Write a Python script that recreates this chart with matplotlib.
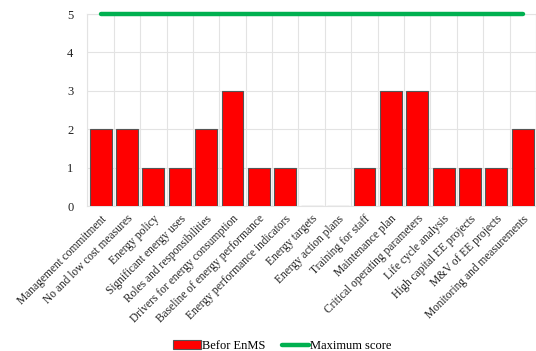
import matplotlib
matplotlib.use('Agg')
import matplotlib.pyplot as plt
import numpy as np

categories = ['Management commitment', 'No and low cost measures', 'Energy policy',
              'Significant energy uses', 'Roles and responsibilities',
              'Drivers for energy consumption', 'Baseline of energy performance',
              'Energy performance indicators', 'Energy targets', 'Energy action plans',
              'Training for staff', 'Maintenance plan', 'Critical operating parameters',
              'Life cycle analysis', 'High capital EE projects', 'M&V of EE projects',
              'Monitoring and measurements']
before_enms = [2, 2, 1, 1, 2, 3, 1, 1, 0, 0, 1, 3, 3, 1, 1, 1, 2]
max_score = [5] * len(categories)

plt.rcParams['font.family'] = ['Liberation Serif', 'DejaVu Serif']
plt.rcParams['font.size'] = 8.3

fig = plt.figure(figsize=(5.36, 3.51), dpi=100)
ax = fig.add_axes([0.163, 0.413, 0.837, 0.547])

x = np.arange(len(categories))
bars = ax.bar(x, before_enms, width=0.83, color='#FF0000', edgecolor='#555555',
              linewidth=0.8, label='Befor EnMS', zorder=3)
line, = ax.plot(x, max_score, color='#00B050', linewidth=3.2, label='Maximum score',
                zorder=4, clip_on=False, solid_capstyle='round')

ax.set_xlim(-0.5, len(categories) - 0.5)
ax.set_ylim(0, 5)
ax.set_yticks(range(6))
ax.set_xticks(x)
ax.set_xticklabels(categories, rotation=45, ha='right', rotation_mode='anchor')
ax.tick_params(axis='x', length=0, pad=5, colors='#222222')
ax.tick_params(axis='y', length=0, pad=10, colors='#222222', labelsize=9)

# grid on the category boundaries and at each score level
ax.set_xticks(np.arange(-0.5, len(categories), 1), minor=True)
ax.grid(which='minor', axis='x', color='#E3E3E3', linewidth=0.8, zorder=0)
ax.grid(which='major', axis='y', color='#E3E3E3', linewidth=0.8, zorder=0)
ax.tick_params(which='minor', length=0)
for s in ax.spines.values():
    s.set_color('#E3E3E3')
    s.set_linewidth(0.8)

fig.legend(handles=[bars, line], loc='lower center', bbox_to_anchor=(0.527, -0.035),
           ncol=2, frameon=False, fontsize=9, handlelength=2.2, handletextpad=0.1,
           columnspacing=1.3)

fig.savefig('out.png', dpi=100)
